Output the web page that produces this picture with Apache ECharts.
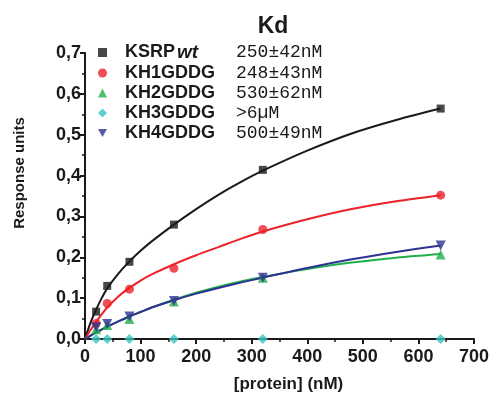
<!DOCTYPE html>
<html>
<head>
<meta charset="utf-8">
<script src="https://cdn.jsdelivr.net/npm/echarts@6/dist/echarts.min.js"></script>
<style>
  html, body { margin: 0; padding: 0; background: #fff; }
  #chart { width: 494px; height: 395px; }
</style>
</head>
<body>
<div id="chart"></div>
<script>
// measured points (protein concentration in nM)
const concX = [20, 40, 80, 160, 320, 640];
const wtPts = [0.067, 0.130, 0.189, 0.280, 0.414, 0.564];
const kh1Pts = [0.038, 0.087, 0.122, 0.173, 0.268, 0.352];
const kh2Pts = [0.024, 0.034, 0.049, 0.092, 0.150, 0.207];
const kh3Pts = [0, 0, 0, 0, 0, 0];
const kh4Pts = [0.029, 0.037, 0.055, 0.093, 0.150, 0.229];

// fitted curves
const fitX = [0, 10, 20, 30, 40, 60, 80, 100, 120, 160, 200, 240, 280, 320, 400, 480, 560, 640];
const wtFit = [0, 0.040, 0.072, 0.100, 0.124, 0.160, 0.190, 0.216, 0.239, 0.280, 0.318, 0.353, 0.384, 0.412, 0.461, 0.503, 0.536, 0.564];
const kh1Fit = [0, 0.022, 0.042, 0.060, 0.077, 0.104, 0.125, 0.143, 0.158, 0.183, 0.205, 0.225, 0.245, 0.263, 0.293, 0.318, 0.337, 0.352];
const kh2Fit = [0, 0.008, 0.016, 0.023, 0.030, 0.043, 0.055, 0.066, 0.077, 0.096, 0.113, 0.128, 0.141, 0.152, 0.171, 0.187, 0.199, 0.208];
const kh4Fit = [0, 0.008, 0.016, 0.023, 0.030, 0.043, 0.055, 0.066, 0.077, 0.095, 0.111, 0.125, 0.138, 0.150, 0.174, 0.195, 0.213, 0.229];

const seriesNames = ["KSRPwt", "KH1GDDG", "KH2GDDG", "KH3GDDG", "KH4GDDG"];
const kdLabels = ["250\u00b142nM", "248\u00b143nM", "530\u00b162nM", ">6\u00b5M", "500\u00b149nM"];
const colors = ["#1a1a1a", "#ec2129", "#1fb04b", "#3cc3bf", "#2e3192"];

const downTri = "path://M0,0 L10,0 L5,9 Z";
const symbols = ["rect", "circle", "triangle", "diamond", downTri];
const symbolSizes = [8, 9, 10, 10, 10];

const pair = (xs, ys) => xs.map((x, i) => [x, ys[i]]);
const ptsList = [wtPts, kh1Pts, kh2Pts, kh3Pts, kh4Pts];
const fitList = [wtFit, kh1Fit, kh2Fit, null, kh4Fit];

const chart = echarts.init(document.getElementById("chart"));

const series = [];
fitList.forEach((fit, i) => {
  if (!fit) return;
  series.push({
    name: seriesNames[i] + "-fit",
    type: "line",
    data: pair(fitX, fit),
    smooth: 0.3,
    showSymbol: false,
    silent: true,
    lineStyle: { color: colors[i], width: 2 },
    z: 2,
  });
});
ptsList.forEach((pts, i) => {
  series.push({
    name: seriesNames[i],
    type: "scatter",
    data: pair(concX, pts),
    symbol: symbols[i],
    symbolSize: symbolSizes[i],
    itemStyle: { color: colors[i] },
    clip: false,
    z: 3,
  });
});

chart.setOption({
  animation: false,
  title: {
    text: "Kd",
    left: 268,
    top: 10,
    textAlign: "center",
    textStyle: { fontFamily: "Liberation Sans", fontWeight: "bold", fontSize: 23, color: "#1a1a1a" },
  },
  legend: {
    data: seriesNames,
    orient: "vertical",
    left: 93,
    top: 38,
    itemWidth: 9,
    itemHeight: 9,
    itemGap: 2,
    formatter: (name) => {
      const i = seriesNames.indexOf(name);
      if (name === "KSRPwt") return "{k|KSRP}{i|wt}{v|" + kdLabels[i] + "}";
      return "{n|" + name + "}{v|" + kdLabels[i] + "}";
    },
    textStyle: {
      color: "#1a1a1a",
      rich: {
        n: { fontFamily: "Liberation Sans", fontWeight: "bold", fontSize: 18, width: 111, lineHeight: 20, padding: [0, 0, 0, 13] },
        k: { fontFamily: "Liberation Sans", fontWeight: "bold", fontSize: 18, width: 52, lineHeight: 20, padding: [0, 0, 0, 13] },
        i: { fontFamily: "Liberation Sans", fontWeight: "bold", fontStyle: "italic", fontSize: 19, width: 59, lineHeight: 20 },
        v: { fontFamily: "Liberation Mono", fontSize: 18, lineHeight: 20 },
      },
    },
  },
  grid: { left: 85, right: 20, top: 53, bottom: 56, containLabel: false, outerBoundsMode: "none" },
  xAxis: {
    type: "value",
    min: 0,
    max: 700,
    interval: 100,
    name: "[protein] (nM)",
    nameLocation: "middle",
    nameGap: 37,
    nameTextStyle: { fontFamily: "Liberation Sans", fontWeight: "bold", fontSize: 17, color: "#1a1a1a", padding: [0, 0, 0, 18] },
    axisLine: { lineStyle: { color: "#1a1a1a", width: 2 } },
    axisTick: { length: 5, lineStyle: { width: 2 } },
    minorTick: { show: true, splitNumber: 2, length: 3, lineStyle: { color: "#1a1a1a", width: 1.5 } },
    splitLine: { show: false },
    axisLabel: { fontFamily: "Liberation Sans", fontWeight: "bold", fontSize: 18, color: "#1a1a1a", margin: 9 },
  },
  yAxis: {
    type: "value",
    min: 0,
    max: 0.7,
    interval: 0.1,
    name: "Response units",
    nameLocation: "middle",
    nameGap: 58,
    nameTextStyle: { fontFamily: "Liberation Sans", fontWeight: "bold", fontSize: 15, color: "#1a1a1a", padding: [0, 0, 0, 46] },
    axisLine: { show: true, lineStyle: { color: "#1a1a1a", width: 2 } },
    axisTick: { show: true, length: 5, lineStyle: { width: 2 } },
    minorTick: { show: true, splitNumber: 2, length: 3, lineStyle: { color: "#1a1a1a", width: 1.5 } },
    splitLine: { show: false },
    axisLabel: {
      fontFamily: "Liberation Sans",
      fontWeight: "bold",
      fontSize: 18,
      color: "#1a1a1a",
      margin: 4,
      formatter: (v) => v.toFixed(1).replace(".", ","),
    },
  },
  series: series,
});
</script>
</body>
</html>
